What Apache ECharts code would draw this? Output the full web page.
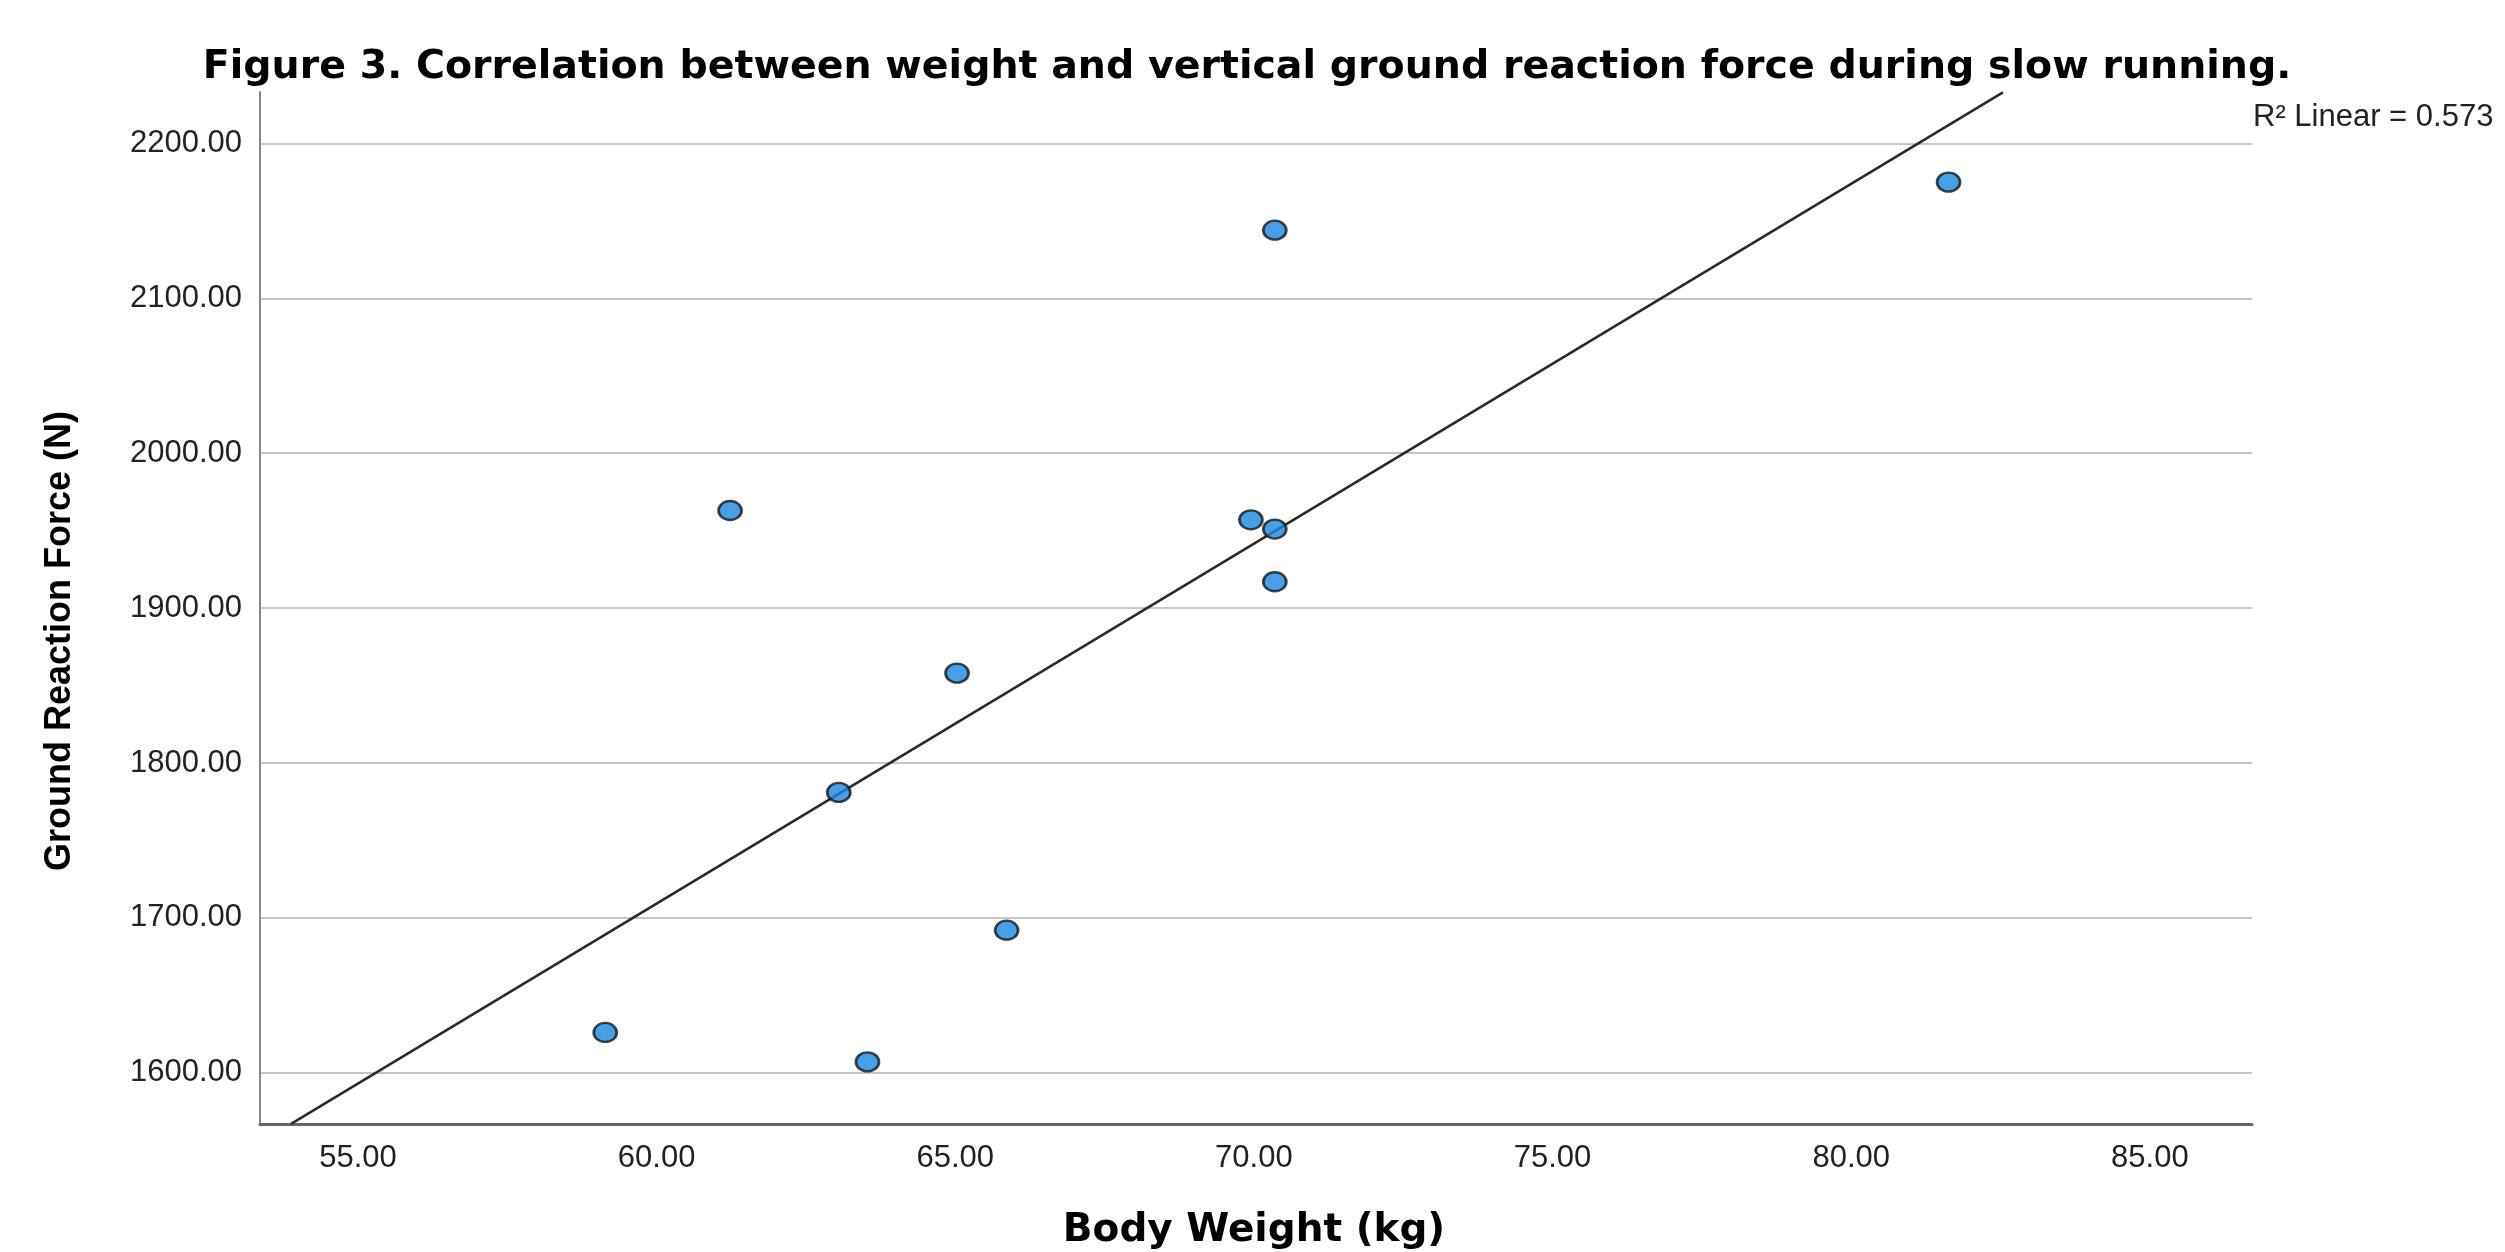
<!DOCTYPE html>
<html>
<head>
<meta charset="utf-8">
<title>Figure 3</title>
<script src="https://cdn.jsdelivr.net/npm/echarts@6.0.0/dist/echarts.min.js"></script>
<style>
  html, body { margin: 0; padding: 0; background: #fff; }
  #chart { width: 2505px; height: 1252px; }
</style>
</head>
<body>
<div id="chart"></div>
<script>
// body weight (kg) and peak vertical GRF (N)
const weight = [59.14, 61.23, 63.05, 63.53, 65.03, 65.86, 69.95, 70.35, 70.35, 70.35, 81.63];
const force = [1626, 1963, 1781, 1607, 1858, 1692, 1957, 1951, 1917, 2144, 2175];

// fit line end points where it leaves the plot box
const fitX = [53.88, 82.54];
const fitY = [1567, 2233];

const xTicks = [55, 60, 65, 70, 75, 80, 85];
const yTicks = [1600, 1700, 1800, 1900, 2000, 2100, 2200];

const titleText = 'Figure 3. Correlation between weight and vertical ground reaction force during slow running.';
const r2Text = 'R\u00b2 Linear = 0.573';

const chart = echarts.init(document.getElementById('chart'));
chart.setOption({
  backgroundColor: '#fff',
  animation: false,
  title: {
    text: titleText,
    left: 1247,
    top: 48,
    padding: 0,
    textAlign: 'center',
    textStyle: { fontFamily: 'DejaVu Sans', fontWeight: 'bold', fontSize: 39.5, color: '#000' }
  },
  grid: { left: 260, right: 253, top: 92, bottom: 128 },
  xAxis: {
    type: 'value',
    min: 53.36,
    max: 86.71,
    axisLine: { show: true, onZero: false, lineStyle: { color: '#666', width: 3 } },
    axisTick: { show: false, customValues: xTicks },
    splitLine: { show: false },
    axisLabel: {
      customValues: xTicks,
      margin: 19,
      fontFamily: 'Liberation Sans',
      fontSize: 31,
      color: '#222',
      formatter: v => v.toFixed(2)
    }
  },
  yAxis: {
    type: 'value',
    min: 1566.9,
    max: 2233.2,
    axisLine: { show: true, onZero: false, lineStyle: { color: '#888', width: 2 } },
    axisTick: { show: false, customValues: yTicks },
    splitLine: { show: true, lineStyle: { color: '#c6c6c6', width: 2 } },
    axisLabel: {
      customValues: yTicks,
      margin: 18,
      fontFamily: 'Liberation Sans',
      fontSize: 31,
      color: '#222',
      formatter: v => v.toFixed(2)
    }
  },
  graphic: [
    {
      type: 'text',
      x: 60, y: 641,
      rotation: Math.PI / 2,
      style: {
        text: 'Ground Reaction Force (N)',
        font: 'bold 36px "Liberation Sans"',
        fill: '#000',
        align: 'center',
        verticalAlign: 'middle'
      }
    },
    {
      type: 'text',
      x: 1254, y: 1231,
      style: {
        text: 'Body Weight (kg)',
        font: 'bold 39px "DejaVu Sans"',
        fill: '#000',
        align: 'center',
        verticalAlign: 'middle'
      }
    },
    {
      type: 'text',
      x: 2253, y: 117,
      style: {
        text: r2Text,
        font: '31px "Liberation Sans"',
        fill: '#222',
        align: 'left',
        verticalAlign: 'middle'
      }
    }
  ],
  series: [
    {
      type: 'line',
      data: fitX.map((x, i) => [x, fitY[i]]),
      symbol: 'none',
      clip: true,
      lineStyle: { color: '#2a2a2a', width: 2.5 },
      z: 3
    },
    {
      type: 'scatter',
      data: weight.map((w, i) => [w, force[i]]),
      symbol: 'circle',
      symbolSize: [23, 19],
      itemStyle: { color: '#1a87e0', borderColor: '#151515', borderWidth: 2.5 },
      z: 4
    }
  ]
});
</script>
</body>
</html>
